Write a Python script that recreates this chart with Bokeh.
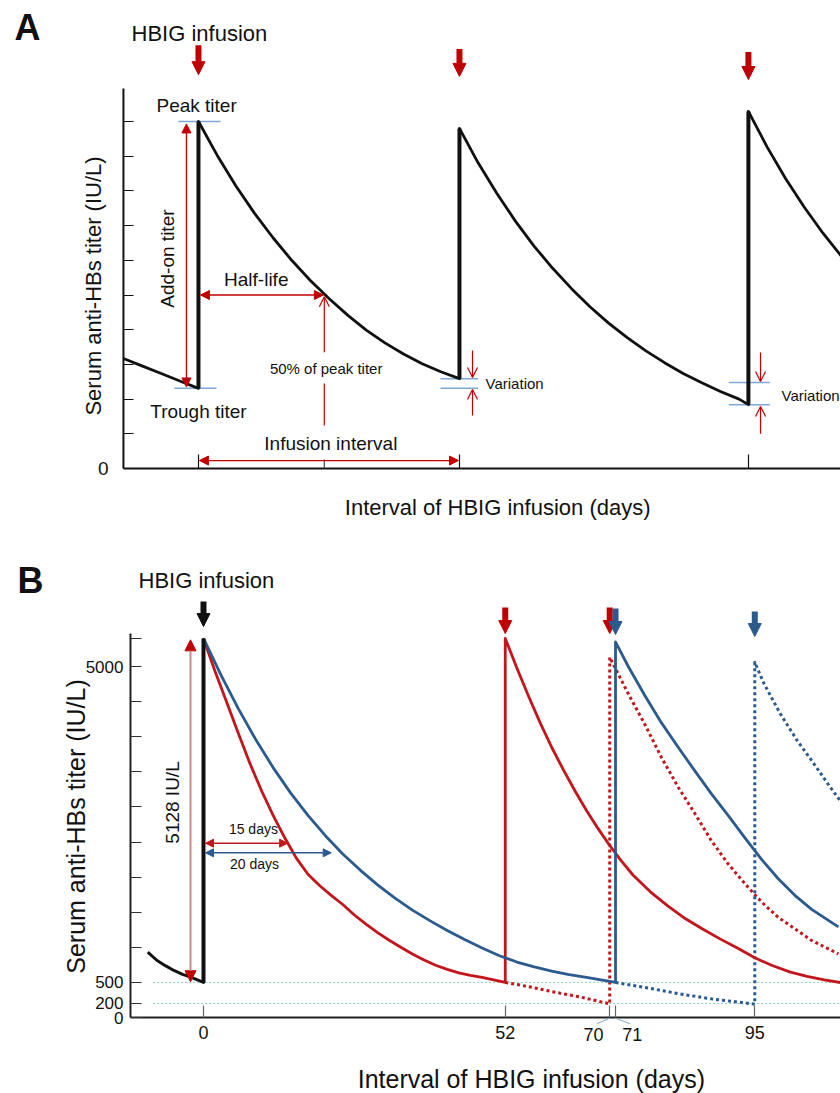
import numpy as np
from bokeh.plotting import figure
from bokeh.models import (Range1d, Label, Arrow, NormalHead, OpenHead,
                          FixedTicker, ColumnDataSource)
from bokeh.layouts import column
from bokeh.embed import file_html
from bokeh.resources import INLINE

FONT = "Liberation Sans"
INK = "#111111"
ARROW_RED = "#C00000"
CURVE_RED = "#C3161C"
CURVE_BLUE = "#2B5A8E"
REF_BLUE = "#7FA8D4"
GUIDE_TEAL = "#86CBBA"

# ---------------- Panel A data (schematic titer, arbitrary units; days) ----------------
A_infusion_days = [0, 28, 59]
A_trough_titer = [2.31, 2.59, 1.84]
A_peak_titer = [10.0, 9.8, 10.29]
A_pre_days = [-8.05, -6, -4, -2, 0]
A_pre_titer = [3.17, 2.95, 2.74, 2.52, 2.31]
A_seg1_days = [0, 2, 4, 6, 8, 10, 12, 14, 16, 18, 20, 22, 24, 26, 28]
A_seg1_titer = [10.0, 9.03, 8.15, 7.36, 6.65, 6.0, 5.42, 4.9, 4.42, 3.99, 3.62, 3.3, 3.02,
                2.79, 2.59]
A_seg2_days = [28, 30, 32, 34, 36, 38, 40, 42, 44, 46, 48, 50, 52, 54, 56, 58, 59]
A_seg2_titer = [9.8, 8.81, 7.93, 7.13, 6.41, 5.77, 5.19, 4.66, 4.19, 3.77, 3.39, 3.05, 2.74,
                2.47, 2.22, 2.0, 1.84]
A_seg3_days = [59, 61, 63, 65, 67, 69, 71]
A_seg3_titer = [10.29, 9.27, 8.35, 7.53, 6.78, 6.11, 5.51]
A_y_ticks = [0, 1, 2, 3, 4, 5, 6, 7, 8, 9, 10]
A_y_tick_labels = ["0", "", "", "", "", "", "", "", "", "", ""]
A_half_life_day = 13.5
A_half_titer = 5.0
A_variation3_upper = 2.48

# ---------------- Panel B data (IU/L; days) ----------------
B_x_ticks = [0, 52, 70, 71, 95]
B_x_tick_labels = ["0", "52", "", "", "95"]
B_offset_tick_labels = ["70", "71"]
B_y_ticks = [0, 200, 500, 1000, 1500, 2000, 2500, 3000, 3500, 4000, 4500, 5000, 5400]
B_y_tick_labels = ["0", "200", "500", "", "", "", "", "", "", "", "", "5000", ""]
B_thresholds = [500, 200]
B_addon = 5128

B_pre_days = [-9.6, -8.0, -6.5, -5.1, -3.6, -2.2, 0, 0]
B_pre_titer = [930, 812, 735, 670, 615, 574, 500, 5400]

B_red1_days = [0, 2, 4, 6, 8, 10, 12, 14, 16, 18, 20, 22, 24, 26, 28, 30, 32, 34, 36, 38,
               40, 42, 44, 46, 48, 50, 52]
B_red1_titer = [5400, 4930, 4490, 4050, 3620, 3230, 2880, 2560, 2270, 2040, 1880, 1740, 1610,
                1460, 1330, 1210, 1100, 1000, 905, 820, 745, 685, 635, 600, 570, 535, 500]
B_red2_days = [52, 54, 56, 58, 60, 62, 64, 66, 68, 70, 72, 74, 77, 80, 83, 86, 89, 92, 95,
               98, 101, 104, 107, 110]
B_red2_titer = [5400, 4980, 4580, 4200, 3850, 3530, 3230, 2950, 2690, 2450, 2230, 2030, 1790,
                1590, 1410, 1260, 1120, 990, 850, 740, 650, 585, 535, 495]

B_blue1_days = [0, 3, 6, 9, 12, 15, 18, 21, 24, 27, 30, 33, 36, 39, 42, 45, 48, 51, 54, 57,
                60, 63, 66, 69, 71]
B_blue1_titer = [5400, 4880, 4400, 3960, 3560, 3200, 2880, 2590, 2330, 2100, 1890, 1700, 1530,
                 1380, 1240, 1110, 990, 880, 790, 720, 660, 610, 570, 530, 500]
B_blue2_days = [71, 73.2, 76.1, 78.9, 81.8, 84.7, 87.5, 90.4, 93.3, 96.2, 99, 101.9, 104.8,
                109.4]
B_blue2_titer = [5350, 5000, 4580, 4200, 3850, 3510, 3190, 2880, 2560, 2250, 1980, 1740, 1540,
                 1290]

B_reddot1_days = [52, 56, 60, 65, 70]
B_reddot1_titer = [500, 440, 370, 290, 195]
B_reddot2_days = [70, 73.2, 76, 78.9, 81.8, 84.7, 87.5, 90.4, 93.3, 96.2, 99, 101.9, 104.8,
                  109.4]
B_reddot2_titer = [5133, 4611, 4184, 3708, 3281, 2902, 2521, 2189, 1905, 1643, 1429, 1264,
                   1097, 907]

B_bluedot1_days = [71, 76, 82, 87.5, 95]
B_bluedot1_titer = [500, 430, 337, 266, 190]
B_bluedot2_days = [95, 96.6, 99.4, 102.3, 105.2, 108, 109.7]
B_bluedot2_titer = [5061, 4754, 4326, 3946, 3614, 3281, 3091]

B_infusion_days = [0, 52, 70, 71, 95]
B_infusion_colors = ["#111111", ARROW_RED, ARROW_RED, CURVE_BLUE, CURVE_BLUE]
B_half_life_red = 14.5
B_half_life_blue = 22.0


def base_fig(width, height, xr, yr):
    p = figure(width=width, height=height, x_range=Range1d(*xr), y_range=Range1d(*yr),
               output_backend="svg", toolbar_location=None,
               min_border_left=0, min_border_right=0, min_border_top=0,
               min_border_bottom=0)
    p.grid.visible = False
    p.outline_line_color = None
    p.background_fill_color = "white"
    p.border_fill_color = "white"
    return p


def style_axis(ax, tick_len, tick_color, label_size, standoff):
    ax.axis_line_color = None
    ax.major_tick_in = tick_len
    ax.major_tick_out = 0
    ax.major_tick_line_color = tick_color
    ax.major_tick_line_width = 1.2
    ax.minor_tick_line_color = None
    ax.major_label_standoff = standoff
    ax.major_label_text_font = FONT
    ax.major_label_text_font_size = f"{label_size}px"
    ax.major_label_text_color = INK


def lab(p, x, y, text, size, angle=0.0, align="center", baseline="middle", bold=False, color=INK):
    p.add_layout(Label(x=x, y=y, text=text, angle=angle, text_align=align,
                       text_baseline=baseline, text_font=FONT, text_font_size=f"{size}px",
                       text_color=color, text_font_style="bold" if bold else "normal"))


def nh(color, size=9):
    return NormalHead(size=size, fill_color=color, line_color=color, line_width=1)


def oh(color, size=10):
    return OpenHead(size=size, line_color=color, line_width=1.2)


def arr(p, x0, y0, x1, y1, color, width=1.3, start=None, end=None):
    p.add_layout(Arrow(x_start=x0, y_start=y0, x_end=x1, y_end=y1, line_color=color,
                       line_width=width, start=start, end=end))


# ======================= Panel A =======================
A_axis_x = -8.05
pa = base_fig(840, 548, (-21.24, 68.88), (-2.305, 13.487))

pa.xaxis.fixed_location = 0
pa.xaxis.ticker = FixedTicker(ticks=A_infusion_days, minor_ticks=[])
pa.xaxis.major_label_overrides = {t: "" for t in A_infusion_days}
style_axis(pa.xaxis, 14, INK, 18, 6)

pa.yaxis.fixed_location = A_axis_x
pa.yaxis.ticker = FixedTicker(ticks=A_y_ticks, minor_ticks=[])
pa.yaxis.major_label_overrides = {t: s for t, s in zip(A_y_ticks, A_y_tick_labels)}
style_axis(pa.yaxis, 10, INK, 19, 15)

# axis lines
pa.segment(x0=[A_axis_x, A_axis_x], y0=[0, 0], x1=[A_axis_x, 68.88], y1=[10.95, 0],
           line_color=INK, line_width=2)

# reference blue lines: peak, trough, variation
pa.segment(x0=[-2.15, -2.58, 25.97, 25.97, 56.9, 56.9],
           y0=[A_peak_titer[0], A_trough_titer[0], A_trough_titer[1], A_trough_titer[0],
               A_variation3_upper, A_trough_titer[2]],
           x1=[2.36, 1.93, 30.0, 30.0, 61.3, 61.3],
           y1=[A_peak_titer[0], A_trough_titer[0], A_trough_titer[1], A_trough_titer[0],
               A_variation3_upper, A_trough_titer[2]],
           line_color=REF_BLUE, line_width=1.5)

# titer curve
A_x = A_pre_days + A_seg1_days + A_seg2_days + A_seg3_days
A_y = A_pre_titer + A_seg1_titer + A_seg2_titer + A_seg3_titer
pa.line(A_x, A_y, line_color=INK, line_width=2.8, line_join="round")
pa.segment(x0=A_infusion_days, y0=A_trough_titer, x1=A_infusion_days, y1=A_peak_titer,
           line_color=INK, line_width=4)

# infusion arrows
srcA = ColumnDataSource(dict(x=A_infusion_days, y0=[12.2, 12.09, 12.0], y1=[11.35, 11.3, 11.21]))
pa.add_layout(Arrow(source=srcA, x_start="x", y_start="y0", x_end="x", y_end="y1",
                    line_color=ARROW_RED, line_width=6,
                    end=NormalHead(size=13, fill_color=ARROW_RED, line_color=ARROW_RED,
                                   line_width=1)))

# add-on titer arrow
arr(pa, -1.29, A_trough_titer[0] + 0.04, -1.29, A_peak_titer[0] - 0.07, ARROW_RED, 1.3,
    start=nh(ARROW_RED), end=nh(ARROW_RED))
# half-life arrow
arr(pa, 0.22, A_half_titer, A_half_life_day - 0.1, A_half_titer, ARROW_RED, 1.3,
    start=nh(ARROW_RED), end=nh(ARROW_RED))
# 50% of peak vertical
arr(pa, A_half_life_day, 3.35, A_half_life_day, A_half_titer - 0.05, ARROW_RED, 1.2,
    end=oh(ARROW_RED))
pa.segment(x0=[A_half_life_day], y0=[1.24], x1=[A_half_life_day], y1=[2.45],
           line_color=ARROW_RED, line_width=1.2)
pa.segment(x0=[A_half_life_day], y0=[0], x1=[A_half_life_day], y1=[0.26],
           line_color="#444444", line_width=1.2)
# infusion interval arrow
arr(pa, A_infusion_days[0] + 0.1, 0.23, A_infusion_days[1] - 0.1, 0.23, ARROW_RED, 1.3,
    start=nh(ARROW_RED), end=nh(ARROW_RED))
# variation arrows
arr(pa, 29.4, 3.40, 29.4, A_trough_titer[1] + 0.03, ARROW_RED, 1.2, end=oh(ARROW_RED))
arr(pa, 29.4, 1.53, 29.4, A_trough_titer[0] - 0.03, ARROW_RED, 1.2, end=oh(ARROW_RED))
arr(pa, 60.3, 3.34, 60.3, A_variation3_upper + 0.03, ARROW_RED, 1.2, end=oh(ARROW_RED))
arr(pa, 60.3, 1.0, 60.3, A_trough_titer[2] - 0.05, ARROW_RED, 1.2, end=oh(ARROW_RED))

# texts
lab(pa, -18.35, 12.72, "A", 36, bold=True)
lab(pa, 0.1, 12.54, "HBIG infusion", 22)
lab(pa, -0.2, 10.47, "Peak titer", 19)
lab(pa, 0.0, 1.65, "Trough titer", 19)
lab(pa, -3.33, 6.05, "Add-on titer", 19, angle=np.pi / 2)
lab(pa, 6.2, 5.45, "Half-life", 19)
lab(pa, 13.7, 2.88, "50% of peak titer", 15)
lab(pa, 14.2, 0.72, "Infusion interval", 19)
lab(pa, 30.8, 2.45, "Variation", 15, align="left")
lab(pa, 62.55, 2.1, "Variation", 15, align="left")
lab(pa, -11.27, 5.26, "Serum anti-HBs titer (IU/L)", 22, angle=np.pi / 2)
lab(pa, 32.1, -1.12, "Interval of HBIG infusion (days)", 22)

# ======================= Panel B =======================
B_axis_x = -12.58
pb = base_fig(840, 545, (-34.98, 109.77), (-1082.6, 6681))

pb.xaxis.fixed_location = 0
pb.xaxis.ticker = FixedTicker(ticks=B_x_ticks, minor_ticks=[])
pb.xaxis.major_label_overrides = {t: s for t, s in zip(B_x_ticks, B_x_tick_labels)}
style_axis(pb.xaxis, 12, "#666666", 18, 8)

pb.yaxis.fixed_location = B_axis_x
pb.yaxis.ticker = FixedTicker(ticks=B_y_ticks, minor_ticks=[])
pb.yaxis.major_label_overrides = {t: s for t, s in zip(B_y_ticks, B_y_tick_labels)}
style_axis(pb.yaxis, 11, "#333333", 17, 7)

pb.segment(x0=[B_axis_x, B_axis_x], y0=[0, 0], x1=[B_axis_x, 109.77], y1=[5470, 0],
           line_color="#222222", line_width=2)

# threshold guides
pb.segment(x0=[-8.67, -8.67], y0=B_thresholds, x1=[110, 110], y1=B_thresholds,
           line_color=GUIDE_TEAL, line_width=1, line_dash="2 2")

# dotted (hypothetical) curves
pb.line(B_reddot1_days + B_reddot2_days, B_reddot1_titer + B_reddot2_titer,
        line_color=CURVE_RED, line_width=3, line_dash="3 3", line_join="round")
pb.line(B_bluedot1_days + B_bluedot2_days, B_bluedot1_titer + B_bluedot2_titer,
        line_color=CURVE_BLUE, line_width=3, line_dash="3 3", line_join="round")
# solid curves
pb.line(B_red1_days + B_red2_days, B_red1_titer + B_red2_titer,
        line_color=CURVE_RED, line_width=2.8, line_join="round")
pb.line(B_blue1_days + B_blue2_days, B_blue1_titer + B_blue2_titer,
        line_color=CURVE_BLUE, line_width=2.8, line_join="round")
pb.line(B_pre_days, B_pre_titer, line_color=INK, line_width=3, line_join="round")
pb.segment(x0=[0], y0=[B_pre_titer[-2]], x1=[0], y1=[B_pre_titer[-1]], line_color=INK,
           line_width=4)

# infusion arrows
for d, c, y0, y1 in zip(B_infusion_days, B_infusion_colors,
                        [5926, 5840, 5840, 5826, 5783], [5570, 5470, 5470, 5456, 5427]):
    pb.add_layout(Arrow(x_start=d, y_start=y0, x_end=d, y_end=y1, line_color=c, line_width=6,
                        end=NormalHead(size=13, fill_color=c, line_color=c, line_width=1)))

# 5128 IU/L arrow
arr(pb, -2.24, 510, -2.24, 5380, "#C58B8B", 2, start=nh(ARROW_RED, 11), end=nh(ARROW_RED, 11))
# half-life arrows
arr(pb, 0.35, 2483, B_half_life_red, 2483, CURVE_RED, 1.5, start=nh(CURVE_RED, 8),
    end=nh(CURVE_RED, 8))
arr(pb, 0.35, 2346, B_half_life_blue, 2346, CURVE_BLUE, 1.5, start=nh(CURVE_BLUE, 8),
    end=nh(CURVE_BLUE, 8))

# leaders for offset tick labels
arr(pb, 70, -10, 67.8, -88, REF_BLUE, 1)
arr(pb, 71, -10, 73.6, -92, REF_BLUE, 1)
lab(pb, 67.2, -245, B_offset_tick_labels[0], 18)
lab(pb, 73.9, -245, B_offset_tick_labels[1], 18)

lab(pb, -29.8, 6225, "B", 36, bold=True)
lab(pb, 0.5, 6225, "HBIG infusion", 22)
lab(pb, -5.34, 3063, f"{B_addon} IU/L", 19, angle=np.pi / 2)
lab(pb, 8.6, 2692, "15 days", 14)
lab(pb, 8.8, 2180, "20 days", 14)
lab(pb, -21.9, 2721, "Serum anti-HBs titer (IU/L)", 25, angle=np.pi / 2)
lab(pb, 56.5, -883, "Interval of HBIG infusion (days)", 25)

layout = column(pa, pb)
open("out.html", "w").write(file_html(layout, INLINE))
